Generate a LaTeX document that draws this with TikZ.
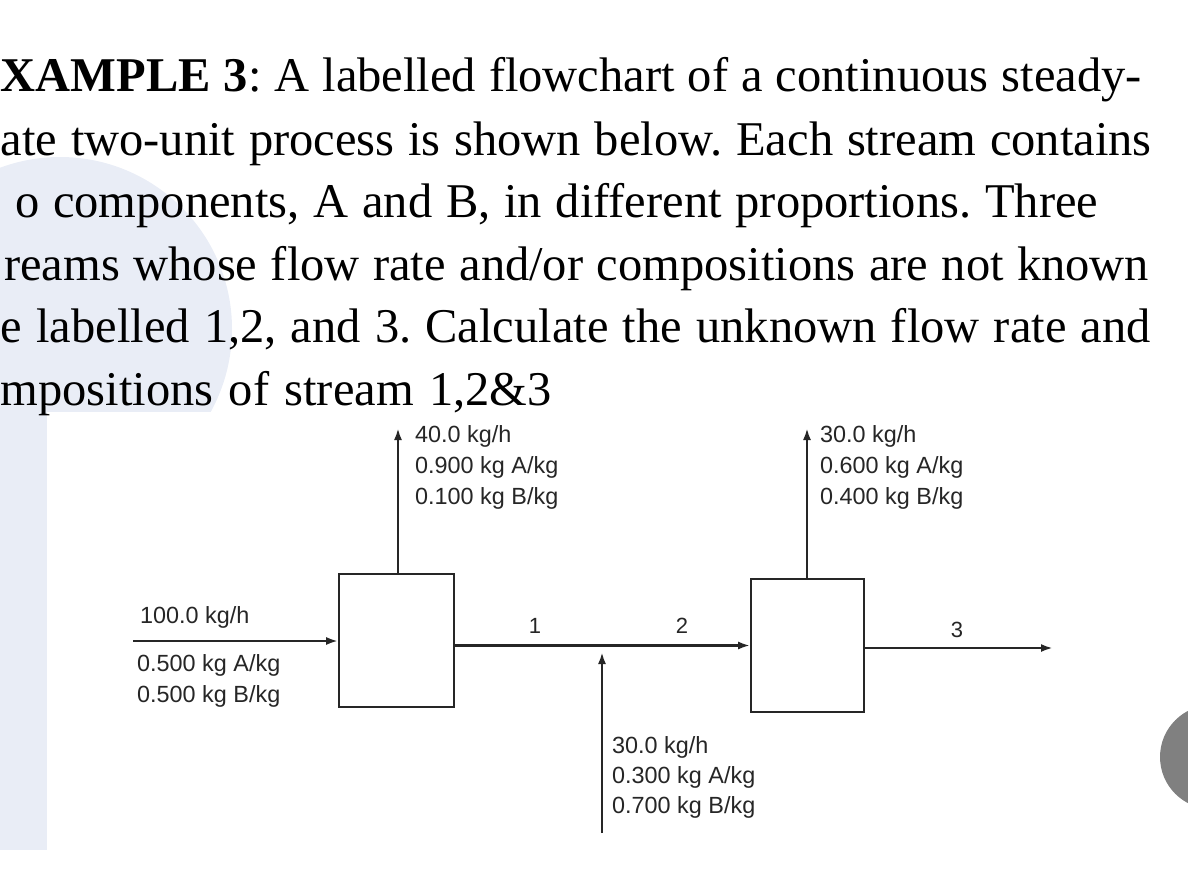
\documentclass[tikz,border=0pt]{standalone}
\usepackage{fontspec}
\setmainfont{Liberation Serif}
\setsansfont{Liberation Sans}
\usetikzlibrary{positioning}
\usetikzlibrary{arrows.meta}
\definecolor{slideblue}{HTML}{E9EDF6}
\definecolor{inkgray}{HTML}{262626}
\frenchspacing
\tikzset{
    unit/.style = {rectangle, draw=inkgray, line width=1.7pt, minimum width=115pt, minimum height=133pt, inner sep=0pt},
    stream/.style = {-{Latex[length=12pt,width=8pt]}, line width=2.6pt, draw=inkgray},
    hdr/.style = {anchor=base west, inner sep=0pt, text=black, font=\fontsize{48.5}{58}\selectfont},
    lbl/.style = {anchor=base west, inner sep=0pt, text=inkgray, font=\sffamily\fontsize{23.4}{28}\selectfont},
    num/.style = {anchor=base, inner sep=0pt, text=inkgray, font=\sffamily\fontsize{22}{25}\selectfont}
}

\begin{document}
\begin{tikzpicture}[x=1pt,y=-1pt]
\useasboundingbox (0,0) rectangle (1188,891);
% backdrop
\fill[slideblue] (60,329) circle (172pt);
\fill[slideblue] (0,329) rectangle (47,850);
\fill[white] (47,412) rectangle (1150,850);
\fill[gray] (1212,757) circle (52pt);
%
\node[hdr] at (0.5,92) (h1) {\makebox[1141pt][s]{\textbf{XAMPLE 3}: A labelled flowchart of a continuous steady-}};
\node[hdr] at (0.5,155) (h2) {\makebox[1151pt][s]{ate two-unit process is shown below. Each stream contains}};
\node[hdr] at (15,217) (h3) {\makebox[1083pt][s]{o components, A and B, in different proportions. Three}};
\node[hdr] at (4,280) (h4) {\makebox[1145pt][s]{reams whose flow rate and/or compositions are not known}};
\node[hdr] at (0.5,342) (h5) {\makebox[1150pt][s]{e labelled 1,2, and 3. Calculate the unknown flow rate and}};
\node[hdr] at (0.5,405) (h6) {\makebox[551pt][s]{mpositions of stream 1,2\&3}};
%
\node[unit] at (396.5,640.5) (u1) {};
\node[unit, minimum width=113pt] at (807.5,645.5) (u2) {};
\coordinate (feed) at (133,641);
\coordinate (top1) at (398,428);
\coordinate (top2) at (807,428);
\coordinate (mix) at (602,833);
\coordinate (mixtip) at (602,652);
\coordinate (prod) at (1053,648);
%
\draw[stream] (feed) -- (feed -| u1.west);
\draw[stream] (u1.north -| top1) -- (top1);
\draw[stream] (u1.east |- u2.west) -- (u2.west);
\draw[stream] (mix) -- (mixtip);
\draw[stream] (u2.north -| top2) -- (top2);
\draw[stream] (u2.east |- prod) -- (prod);
%
\node[num] at (535,633) (s1) {1};
\node[num] at (682,633) (s2) {2};
\node[num] at (957,637) (s3) {3};
%
\node[lbl] at (140,623) (f1) {100.0 kg/h};
\node[lbl] at (137,671) (f2) {0.500 kg A/kg};
\node[lbl] at (137,702) (f3) {0.500 kg B/kg};
\node[lbl] at (415,442) (t1) {40.0 kg/h};
\node[lbl] at (415,473) (t2) {0.900 kg A/kg};
\node[lbl] at (415,504) (t3) {0.100 kg B/kg};
\node[lbl] at (820,442) (r1) {30.0 kg/h};
\node[lbl] at (820,473) (r2) {0.600 kg A/kg};
\node[lbl] at (820,504) (r3) {0.400 kg B/kg};
\node[lbl] at (612,753) (b1) {30.0 kg/h};
\node[lbl] at (612,783) (b2) {0.300 kg A/kg};
\node[lbl] at (612,813) (b3) {0.700 kg B/kg};

%%% 12
\end{tikzpicture}
\end{document}
